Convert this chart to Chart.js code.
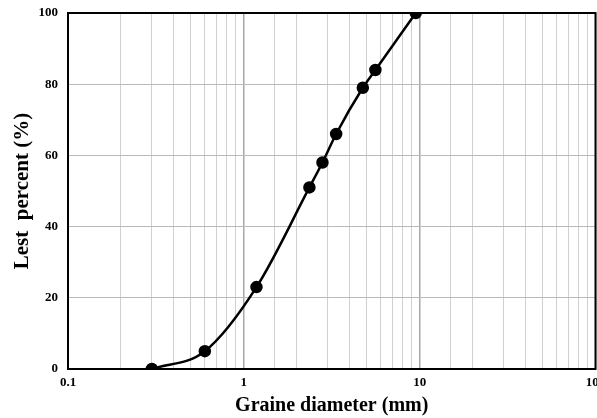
<!DOCTYPE html>
<html>
<head>
<meta charset="utf-8">
<script src="https://cdn.jsdelivr.net/npm/chart.js@4.4.1/dist/chart.umd.min.js"></script>
<style>
  html, body { margin: 0; padding: 0; background: #fff; overflow: hidden; }
  #wrap { width: 603px; height: 418px; }
</style>
</head>
<body>
<div id="wrap"><canvas id="psd"></canvas></div>
<script>
  // sieve sizes (mm) and percent passing
  const grainSize = [0.3, 0.6, 1.18, 2.36, 2.8, 3.35, 4.75, 5.6, 9.5];
  const percentPassing = [0, 5, 23, 51, 58, 66, 79, 84, 100];
  const xTickLabels = [0.1, 1, 10, 100];
  const yTickLabels = [0, 20, 40, 60, 80, 100];

  const points = grainSize.map((d, i) => ({ x: d, y: percentPassing[i] }));
  const isDecade = v => xTickLabels.some(t => Math.abs(v - t) < t * 1e-6);

  const frame = {
    id: 'frame',
    afterDatasetsDraw(chart) {
      const a = chart.chartArea, c = chart.ctx;
      c.save();
      c.strokeStyle = '#000';
      c.lineWidth = 2;
      c.strokeRect(a.left, a.top, a.right - a.left, a.bottom - a.top);
      c.restore();
    }
  };

  const tickFont = { family: 'Liberation Serif', weight: 'bold', size: 13 };
  const titleFont = { family: 'Liberation Serif', weight: 'bold', size: 20 };

  const ctx = document.getElementById('psd');

  new Chart(ctx, {
    type: 'scatter',
    data: {
      datasets: [{
        data: points,
        showLine: true,
        borderColor: '#000',
        backgroundColor: '#000',
        borderWidth: 2.5,
        pointRadius: 5,
        cubicInterpolationMode: 'monotone'
      }]
    },
    options: {
      responsive: true,
      maintainAspectRatio: false,
      animation: false,
      layout: { padding: { left: 10, right: 2, top: 13, bottom: 0 } },
      plugins: { legend: { display: false }, tooltip: { enabled: false } },
      scales: {
        x: {
          type: 'logarithmic',
          min: 0.1,
          max: 100,
          afterFit: s => { s.height = 49; s.paddingLeft = 0; s.paddingRight = 0; },
          grid: {
            drawTicks: false,
            color: c => isDecade(c.tick.value) ? '#a8a8a8' : '#d0d0d0',
            lineWidth: c => isDecade(c.tick.value) ? 1.5 : 1
          },
          border: { display: false },
          ticks: {
            autoSkip: false,
            maxRotation: 0,
            padding: 6,
            color: '#000',
            font: tickFont,
            callback: v => isDecade(v) ? String(v) : ''
          },
          title: {
            display: true,
            text: 'Graine diameter (mm)',
            color: '#000',
            font: titleFont,
            padding: { top: 0, bottom: 0 }
          }
        },
        y: {
          min: 0,
          max: 100,
          afterFit: s => { s.width = 58; s.paddingTop = 0; s.paddingBottom = 0; },
          grid: { drawTicks: false, color: '#bababa' },
          border: { display: false },
          ticks: {
            stepSize: 20,
            padding: 10,
            color: '#000',
            font: tickFont,
            callback: v => yTickLabels.includes(v) ? String(v) : ''
          },
          title: {
            display: true,
            text: 'Lest  percent (%)',
            color: '#000',
            font: { family: 'Liberation Serif', weight: 'bold', size: 21 },
            padding: { top: 0, bottom: 0 }
          }
        }
      }
    },
    plugins: [frame]
  });
</script>
</body>
</html>
